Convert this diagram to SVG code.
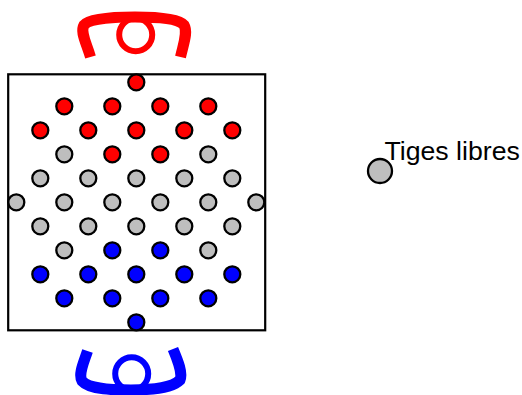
<svg xmlns="http://www.w3.org/2000/svg" width="522" height="395" viewBox="0 0 522 395">
<style>
.r{fill:#ff0000;stroke:#000;stroke-width:2.300}
.g{fill:#bebebe;stroke:#000;stroke-width:2.300}
.b{fill:#0000ff;stroke:#000;stroke-width:2.300}
.hr{fill:none;stroke:#ff0000}
.hb{fill:none;stroke:#0000ff}
text{font-family:"Liberation Sans",Arial,sans-serif;font-size:26.67px;fill:#000}
</style>
<rect width="522" height="395" fill="#fff"/>
<g id="board"><rect x="8.200" y="74.300" width="257" height="256" fill="#fff" stroke="#000" stroke-width="2.200"/></g>
<g id="head-red">
<path class="hr" stroke-width="11" d="M90.500 57C86 42 80 32 84 25C90 18 118 17 135 17C152 17 178 18 184 25C188 32 184 42 180.500 57"/>
<circle class="hr" stroke-width="6" cx="135.700" cy="34.700" r="16.500"/>
</g>
<g id="head-blue">
<path class="hb" stroke-width="11" d="M87.500 351C84 362 78 374 82 381C90 390 115 390 131 390C150 390 172 388 180 380C183 373 178 361 173 349"/>
<circle class="hb" stroke-width="6" cx="131.700" cy="373.700" r="16.500"/>
</g>
<g id="red-pegs" transform="translate(0.300 0.300)">
<circle class="r" cx="136" cy="82" r="8"/>
<circle class="r" cx="64" cy="106" r="8"/><circle class="r" cx="112" cy="106" r="8"/><circle class="r" cx="160" cy="106" r="8"/><circle class="r" cx="208" cy="106" r="8"/>
<circle class="r" cx="40" cy="130" r="8"/><circle class="r" cx="88" cy="130" r="8"/><circle class="r" cx="136" cy="130" r="8"/><circle class="r" cx="184" cy="130" r="8"/><circle class="r" cx="232" cy="130" r="8"/>
<circle class="r" cx="112" cy="154" r="8"/><circle class="r" cx="160" cy="154" r="8"/>
</g>
<g id="gray-pegs" transform="translate(0.300 0.300)">
<circle class="g" cx="64" cy="154" r="8"/><circle class="g" cx="208" cy="154" r="8"/>
<circle class="g" cx="40" cy="178" r="8"/><circle class="g" cx="88" cy="178" r="8"/><circle class="g" cx="136" cy="178" r="8"/><circle class="g" cx="184" cy="178" r="8"/><circle class="g" cx="232" cy="178" r="8"/>
<circle class="g" cx="16" cy="202" r="8"/><circle class="g" cx="64" cy="202" r="8"/><circle class="g" cx="112" cy="202" r="8"/><circle class="g" cx="160" cy="202" r="8"/><circle class="g" cx="208" cy="202" r="8"/><circle class="g" cx="256" cy="202" r="8"/>
<circle class="g" cx="40" cy="226" r="8"/><circle class="g" cx="88" cy="226" r="8"/><circle class="g" cx="136" cy="226" r="8"/><circle class="g" cx="184" cy="226" r="8"/><circle class="g" cx="232" cy="226" r="8"/>
<circle class="g" cx="64" cy="250" r="8"/><circle class="g" cx="208" cy="250" r="8"/>
</g>
<g id="blue-pegs" transform="translate(0.300 0.300)">
<circle class="b" cx="112" cy="250" r="8"/><circle class="b" cx="160" cy="250" r="8"/>
<circle class="b" cx="40" cy="274" r="8"/><circle class="b" cx="88" cy="274" r="8"/><circle class="b" cx="136" cy="274" r="8"/><circle class="b" cx="184" cy="274" r="8"/><circle class="b" cx="232" cy="274" r="8"/>
<circle class="b" cx="64" cy="298" r="8"/><circle class="b" cx="112" cy="298" r="8"/><circle class="b" cx="160" cy="298" r="8"/><circle class="b" cx="208" cy="298" r="8"/>
<circle class="b" cx="136" cy="322" r="8"/>
</g>
<g id="legend">
<circle cx="380" cy="171" r="12" fill="#bebebe" stroke="#000" stroke-width="2.300"/>
<text x="384.500" y="159.500">Tiges libres</text>
</g>
</svg>
